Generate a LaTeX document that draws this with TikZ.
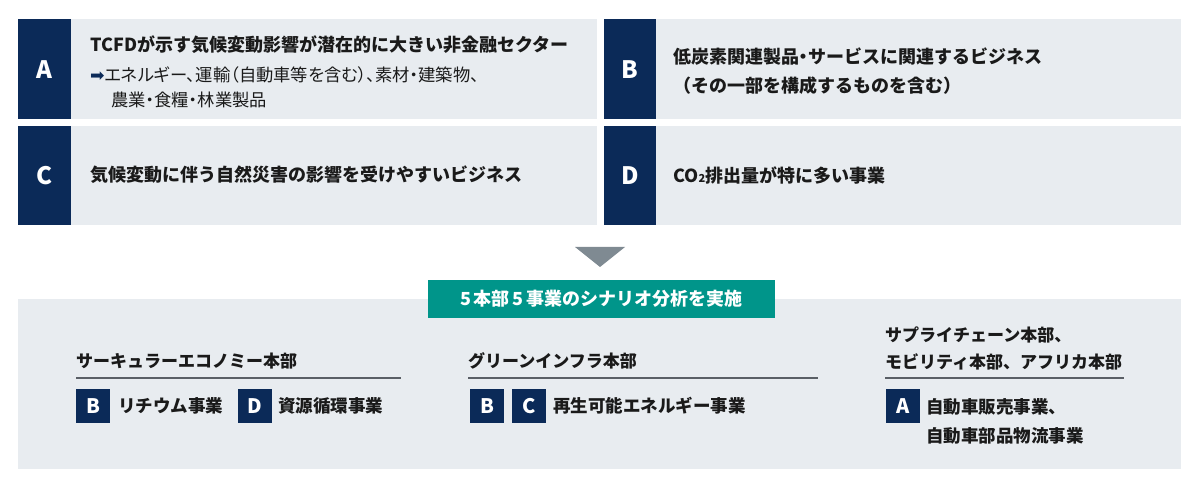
\documentclass[tikz,border=0pt]{standalone}
\usepackage{fontspec}
\setmainfont{Noto Sans CJK JP}
\newfontfamily\pfont{Noto Sans CJK JP}[RawFeature=+palt]
\newfontfamily\symfont{DejaVu Sans}
\definecolor{navy}{HTML}{0B2A58}
\definecolor{panelbg}{HTML}{E8ECF0}
\definecolor{tealc}{HTML}{00958A}
\definecolor{trig}{HTML}{7F8A92}
\definecolor{rulec}{HTML}{5A5F66}
\definecolor{txt}{HTML}{1A1A1A}
\begin{document}
\begin{tikzpicture}[x=1pt,y=-1pt,
  panel/.style={fill=panelbg,draw=none,anchor=north west,inner sep=0},
  strip/.style={fill=navy,draw=none,anchor=north west,inner sep=0,text=white,minimum width=53,font=\bfseries\fontsize{24}{24}\selectfont},
  badge/.style={fill=navy,text=white,minimum size=34,inner sep=0,anchor=north west,font=\bfseries\fontsize{20}{20}\selectfont},
  ttl/.style={anchor=west,inner sep=0,text=txt,align=left,font=\bfseries\fontsize{18}{29}\selectfont},
  btl/.style={anchor=west,inner sep=0,text=txt,align=left,font=\bfseries\fontsize{17}{27}\selectfont},
  itm/.style={anchor=west,inner sep=0,text=txt,align=left,font=\bfseries\fontsize{17.5}{29}\selectfont},
  sub/.style={anchor=west,inner sep=0,text=txt,align=left,font=\pfont\fontsize{17.3}{25}\selectfont},
  rule/.style={draw=rulec,line width=1.1pt}]
\useasboundingbox (0,0) rectangle (1200,489);
% top panels
\node[panel,minimum width=579,minimum height=100] (pA) at (18,19) {};
\node[panel,minimum width=577,minimum height=100] (pB) at (604,19) {};
\node[panel,minimum width=579,minimum height=99] (pC) at (18,126) {};
\node[panel,minimum width=577,minimum height=99] (pD) at (604,126) {};
\node[strip,minimum height=100] (sA) at (18,19) {A};
\node[strip,minimum height=100,minimum width=52] (sB) at (604,19) {B};
\node[strip,minimum height=99] (sC) at (18,126) {C};
\node[strip,minimum height=99,minimum width=52] (sD) at (604,126) {D};
% texts
\node[ttl] (tA1) at (90,45) {TCFDが示す気候変動影響が潜在的に大きい非金融セクター};
\node[sub] (tA2) at (90,75) {{\symfont\color{navy}➡}エネルギー、運輸（自動車等を含む）、素材・建築物、};
\node[sub] (tA3) at (111,100) {農業・食糧・林業製品};
\node[ttl] (tB) at (673,71) {低炭素関連製品{\pfont ・}サービスに関連するビジネス\\（その一部を構成するものを含む）};
\node[ttl] (tC) at (90,175) {気候変動に伴う自然災害の影響を受けやすいビジネス};
\node[ttl] (tD) at (673,175) {CO{\fontsize{11}{11}\selectfont 2}排出量が特に多い事業};
% arrow triangle
\fill[trig] (575,247) -- (625,247) -- (600,267) -- cycle;
% bottom panel
\node[panel,minimum width=1163,minimum height=170] (pE) at (18,299) {};
\node[fill=tealc,text=white,inner sep=0,minimum width=347,minimum height=38,font=\bfseries\fontsize{18}{18}\selectfont] (lbl) at (601.5,299) {5\hspace{3pt}本部\hspace{3pt}5\hspace{3pt}事業のシナリオ分析を実施};
% column 1
\node[btl] (h1) at (76,361) {サーキュラーエコノミー本部};
\coordinate (r1a) at (76,378); \coordinate (r1b) at (401,378);
\draw[rule] (r1a) -- (r1b);
\node[badge] (b1) at (76,389) {B};
\node[itm] (e1) at (118,406) {リチウム事業};
\node[badge] (d1) at (238,389) {D};
\node[itm] (e2) at (278,406) {資源循環事業};
% column 2
\node[btl] (h2) at (468,361) {グリーンインフラ本部};
\coordinate (r2a) at (468,378); \coordinate (r2b) at (818,378);
\draw[rule] (r2a) -- (r2b);
\node[badge] (b2) at (470,389) {B};
\node[badge] (c2) at (512,389) {C};
\node[itm] (e3) at (553,406) {再生可能エネルギー事業};
% column 3
\node[btl] (h3) at (885,348) {サプライチェーン本部、\\モビリティ本部、アフリカ本部};
\coordinate (r3a) at (885,378); \coordinate (r3b) at (1124,378);
\draw[rule] (r3a) -- (r3b);
\node[badge] (a3) at (886,389) {A};
\node[itm] (e4) at (926,421) {自動車販売事業、\\自動車部品物流事業};
\end{tikzpicture}
\end{document}
